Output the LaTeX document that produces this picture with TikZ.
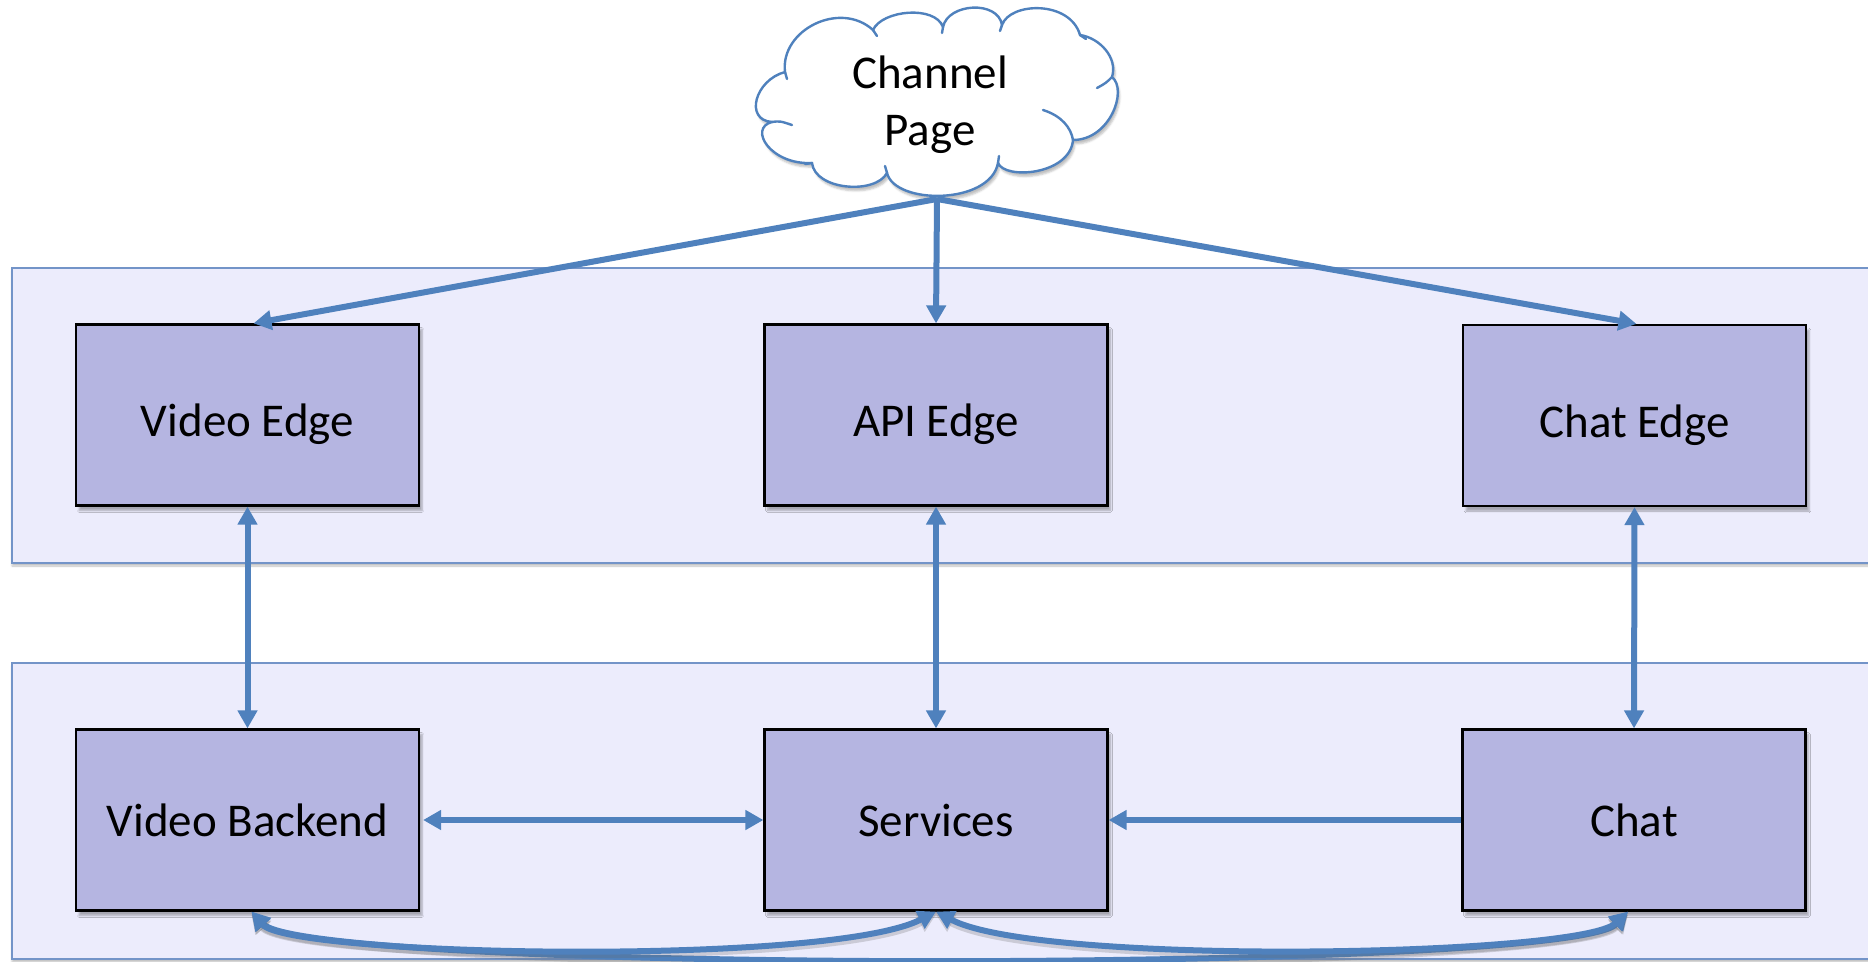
\documentclass[tikz,border=0pt]{standalone}
\usepackage{fontspec}
\setmainfont{Carlito}
\usetikzlibrary{arrows.meta,shadows.blur,calc}
\definecolor{linkblue}{RGB}{79,129,189}
\definecolor{boxfill}{RGB}{181,181,225}
\definecolor{panelfill}{RGB}{236,236,252}
\definecolor{panelline}{RGB}{115,148,200}

\begin{document}
\begin{tikzpicture}[x=1pt,y=-1pt,
  panel/.style={fill=panelfill,draw=panelline,line width=1.8pt,
    blur shadow={shadow xshift=0pt,shadow yshift=-3pt,shadow opacity=25,shadow blur steps=4}},
  svc/.style={rectangle,draw=black,line width=2.2pt,fill=boxfill,
    minimum width=343pt,minimum height=181pt,inner sep=0pt,
    font=\fontsize{47}{56}\selectfont,
    blur shadow={shadow xshift=3pt,shadow yshift=-5pt,shadow opacity=30,shadow blur steps=5}},
  lowered/.style={text height=43pt,text depth=0pt},
  tip/.tip={Triangle[length=18pt,width=19pt]},
  link/.style={draw=linkblue,line width=6pt,-tip},
  twoway/.style={draw=linkblue,line width=6pt,tip-tip},
  curvy/.style={twoway,
    preaction={draw=black!60,opacity=0.25,line width=7pt,transform canvas={yshift=-3pt}}},
  puffline/.style={draw=linkblue,line width=2.4pt,line cap=round},
]
\useasboundingbox (0,0) rectangle (1868,961);

% two tiers
\path[panel] (12,268) rectangle (1885,563);
\path[panel] (12,663) rectangle (1885,959);

% edge tier
\node[svc,lowered] (ve)  at (247.5,415) {Video Edge};
\node[svc,lowered] (api) at (936,415)   {API Edge};
\node[svc,lowered] (ce)  at (1634.5,415.5) {Chat Edge};

% backend tier
\node[svc] (vb)   at (247.5,820) {Video Backend};
\node[svc] (serv) at (936,820)   {Services};
\node[svc] (chat) at (1634,820)  {Chat};

% cloud outline, puff by puff
\path[puffline,fill=white,
  blur shadow={shadow xshift=2pt,shadow yshift=-4pt,shadow opacity=25,shadow blur steps=4}]
  (772,122) .. controls (744,120) and (755,80) .. (785,72)
  .. controls (780,30) and (840,0) .. (873,30)
  .. controls (882,10) and (935,5) .. (943,27)
  .. controls (948,3) and (998,0) .. (1002,25)
  .. controls (1010,2) and (1070,0) .. (1080,35)
  .. controls (1100,38) and (1118,58) .. (1112,77)
  .. controls (1128,90) and (1110,140) .. (1073,140)
  .. controls (1070,175) and (1005,180) .. (998,163)
  .. controls (990,205) and (895,205) .. (887,173)
  .. controls (875,195) and (815,190) .. (812,163)
  .. controls (770,165) and (748,128) .. cycle;
% inner strokes where the puffs meet
\draw[puffline] (772,122) .. controls (780,121) .. (792,125);
\draw[puffline] (785,72) -- (787,79);
\draw[puffline] (873,30) -- (877,36);
\draw[puffline] (943,27) -- (942,33);
\draw[puffline] (1002,25) -- (1000,31);
\draw[puffline] (1080,35) -- (1086,39);
\draw[puffline] (1112,77) .. controls (1106,83) .. (1097,88);
\draw[puffline] (1043,110) .. controls (1062,116) and (1071,128) .. (1073,140);
\draw[puffline] (998,163) -- (999,156);
\draw[puffline] (887,173) -- (885,166);
\draw[puffline] (812,163) -- (805,164);

\node[font=\fontsize{47}{57}\selectfont,align=center,inner sep=0pt] (page) at (930,105) {Channel\\Page};
\coordinate (pb) at (937,199);

\draw[link] (pb) -- ($(ve.north)+(6,0)$);
\draw[link] (pb) -- (api.north);
\draw[link] (pb) -- ($(ce.north)+(2,0)$);

% between tiers
\draw[twoway] (ve.south) -- (vb.north);
\draw[twoway] (api.south) -- (serv.north);
\draw[twoway] (ce.south) -- (chat.north);

% backend links
\draw[twoway,shorten <=3pt] (vb.east) -- (serv.west);
\draw[link] (chat.west) -- (serv.east);

% curved links along the bottom
\draw[curvy] ($(vb.south)+(4,0)$) .. controls ($(vb.south)+(62,62)$) and ($(chat.south)+(-64,62)$) .. ($(chat.south)+(-6,0)$);
\draw[curvy] ($(vb.south)+(4,0)$) .. controls ($(vb.south)+(42,45)$) and ($(serv.south)+(-106,55)$) .. (serv.south);
\draw[curvy] (serv.south) .. controls ($(serv.south)+(104,55)$) and ($(chat.south)+(-54,45)$) .. ($(chat.south)+(-6,0)$);
\end{tikzpicture}
\end{document}
